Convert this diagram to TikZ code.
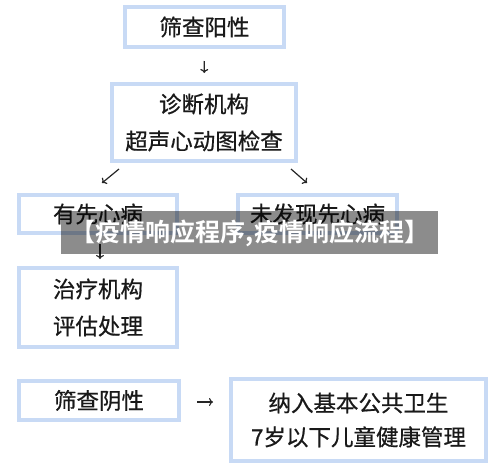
\documentclass[tikz,border=0pt]{standalone}
\usepackage{fontspec}
\newfontfamily\cjk[FakeBold=0.6]{Noto Sans CJK SC}
\newfontfamily\cjkbold{Noto Sans CJK SC Bold}
\usetikzlibrary{arrows,arrows.meta,positioning}

\definecolor{boxblue}{HTML}{C8DAF5}
\tikzset{
	box/.style = {draw=boxblue, line width=4pt, fill=white, align=center, inner sep=0pt, font=\cjk\fontsize{22.5}{37}\selectfont, text=black!90},
	flow/.style = {-{To[length=4pt, width=8pt]}, line width=1.2pt, black!85}
}

\begin{document}
\begin{tikzpicture}[x=1pt, y=-1pt]
			\useasboundingbox[fill=white] (0,0) rectangle (500,466);

			\node[box, minimum width=159pt, minimum height=40pt] (N1) at (204.5,27) {筛查阳性};
			\node[box, minimum width=184pt, minimum height=77pt] (N2) at (204,122.5) {诊断机构\\超声心动图检查};
			\node[box, minimum width=158pt, minimum height=38pt] (N3) at (98,214) {有先心病};
			\node[box, minimum width=159pt, minimum height=38pt] (N4) at (317.5,214) {未发现先心病};
			\node[box, minimum width=158pt, minimum height=79pt] (N5) at (98,307.5) {治疗机构\\评估处理};
			\node[box, minimum width=160pt, minimum height=39pt] (N6) at (99,400.5) {筛查阴性};
			\node[box, minimum width=255pt, minimum height=82pt, font=\cjk\fontsize{22.5}{34}\selectfont] (N7) at (358.5,420) {纳入基本公共卫生\\7岁以下儿童健康管理};

			\path (N1) edge[flow, shorten <=12pt, shorten >=9pt] (N2);
			\draw[flow] ([xshift=9pt, yshift=-6pt]N2.south west) -- ([xshift=4pt, yshift=10pt]N3.north);
			\draw[flow] ([xshift=-7pt, yshift=-6pt]N2.south east) -- ([xshift=-10.5pt, yshift=10pt]N4.north);
			\path ([xshift=2pt]N3.south) edge[flow, shorten <=9pt, shorten >=7pt] ([xshift=2pt]N5.north);
			\path ([yshift=-1.5pt]N6.east) edge[flow, shorten <=16pt, shorten >=16pt] ([yshift=-1.5pt]N6.east -| N7.west);

			\fill[black, opacity=0.45] (61,211) rectangle (438,254);
			\node[font=\cjkbold\fontsize{25}{25}\selectfont, text=white, inner sep=0pt] (W) at (250,233) {【疫情响应程序,疫情响应流程】};

		\end{tikzpicture}
\end{document}
